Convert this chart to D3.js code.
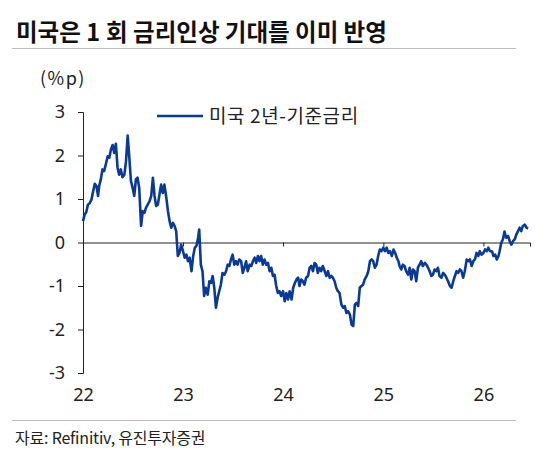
<!DOCTYPE html>
<html>
<head>
<meta charset="utf-8">
<script src="https://cdn.jsdelivr.net/npm/d3@7"></script>
<style>
  body { margin: 0; background: #fff; }
  svg { display: block; font-family: "Noto Sans CJK KR", "Noto Sans", sans-serif; }
</style>
</head>
<body>
<div id="chart"></div>
<script>
// 미국 2년물 - 기준금리 (%p), five readings a month (days 1, 7, 13, 19, 25)
var readDays = [1, 7, 13, 19, 25];
var startYear = 2022;

var y22 = [0.49, 0.64, 0.70, 0.87, 0.90, 0.99, 1.18, 1.35, 1.30, 1.07,
           1.30, 1.45, 1.68, 1.64, 1.79, 1.98, 1.95, 2.14, 2.24, 2.06,
           2.27, 1.72, 1.56, 1.68, 1.50, 1.56, 1.87, 2.46, 1.95, 1.41,
           1.26, 1.07, 1.45, 1.49, 1.26, 0.38, 0.72, 0.68, 0.80, 0.87,
           0.95, 1.07, 1.49, 1.07, 0.84, 0.87, 1.10, 1.33, 1.14, 1.33,
           1.03, 0.72, 0.49, 0.34, 0.45, 0.38, 0.26, -0.31, -0.24, -0.05];
var y23 = [-0.20, -0.35, -0.28, -0.43, -0.35, -0.66, -0.31, -0.12, -0.08, 0.11,
           0.30, -0.51, -0.66, -1.23, -1.04, -1.20, -0.89, -0.93, -0.77, -1.04,
           -1.50, -1.27, -1.12, -0.97, -0.70, -0.74, -0.66, -0.51, -0.54, -0.39,
           -0.28, -0.51, -0.43, -0.51, -0.39, -0.43, -0.70, -0.58, -0.43, -0.66,
           -0.51, -0.54, -0.43, -0.35, -0.47, -0.31, -0.43, -0.31, -0.51, -0.39,
           -0.51, -0.47, -0.66, -0.58, -0.77, -0.74, -1.00, -1.16, -1.12, -1.23];
var y24 = [-1.12, -1.35, -1.16, -1.31, -1.12, -1.31, -1.04, -0.93, -0.85, -0.81,
           -1.00, -0.85, -0.89, -0.97, -0.81, -0.77, -0.58, -0.54, -0.66, -0.47,
           -0.51, -0.70, -0.58, -0.66, -0.54, -0.66, -0.77, -0.66, -0.81, -0.77,
           -0.81, -0.89, -1.04, -1.12, -1.16, -1.43, -1.50, -1.46, -1.62, -1.58,
           -1.66, -1.89, -1.92, -1.43, -1.39, -1.46, -1.04, -1.00, -0.97, -0.85,
           -0.77, -0.66, -0.43, -0.39, -0.43, -0.58, -0.51, -0.31, -0.16, -0.20];
var y25 = [-0.12, -0.20, -0.12, -0.24, -0.20, -0.31, -0.16, -0.24, -0.35, -0.43,
           -0.54, -0.62, -0.51, -0.54, -0.66, -0.74, -0.58, -0.85, -0.62, -0.66,
           -0.89, -0.58, -0.51, -0.43, -0.54, -0.47, -0.51, -0.58, -0.66, -0.77,
           -0.74, -0.62, -0.66, -0.58, -0.77, -0.81, -0.70, -0.74, -0.81, -0.89,
           -1.00, -1.04, -0.89, -0.77, -0.66, -0.70, -0.62, -0.66, -0.81, -0.66,
           -0.39, -0.43, -0.39, -0.54, -0.43, -0.39, -0.24, -0.31, -0.20, -0.28];
var y26 = [-0.24, -0.16, -0.20, -0.12, -0.20, -0.20, -0.31, -0.28, -0.39, -0.31,
           -0.20, -0.01, 0.07, 0.25, 0.11, 0.15, 0.03, -0.05, 0.03, 0.07,
           0.18, 0.26, 0.34, 0.26, 0.38, 0.41, 0.34, 0.32];

var yTicks = [-3, -2, -1, 0, 1, 2, 3];
var yearLabels = ["22", "23", "24", "25", "26"];

var titleParts = ["미국은 1", "회 금리인상 기대를 이미 반영"];
var unitLabel = "(%p)";
var seriesName = "미국 2년-기준금리";
var sourceText = "자료: Refinitiv, 유진투자증권";

var lineColor = "#0a3a96";

var W = 552, H = 463;
var svg = d3.select("#chart").append("svg").attr("width", W).attr("height", H);

// build the series
var series = [];
[y22, y23, y24, y25, y26].forEach(function(vals, yi) {
    vals.forEach(function(v, i) {
        var m = Math.floor(i / readDays.length);
        var d = readDays[i % readDays.length];
        series.push({ date: new Date(startYear + yi, m, d), value: v });
    });
});

var x = d3.scaleTime()
    .domain([new Date(2022, 0, 1), new Date(2026, 5, 20)])
    .range([83, 530]);
var y = d3.scaleLinear().domain([-3, 3]).range([373, 112]);

// title + rules (the source font sets a wide gap after the "1")
var titleText = svg.append("text").attr("x", 16).attr("y", 41)
    .attr("font-size", 23.5).attr("font-weight", "bold").attr("fill", "#111");
titleText.append("tspan").text(titleParts[0]);
titleText.append("tspan").attr("dx", 6).text(titleParts[1]);
svg.append("line").attr("x1", 12).attr("x2", 516).attr("y1", 48.5).attr("y2", 48.5)
    .attr("stroke", "#bdbdbd").attr("stroke-width", 1);
svg.append("line").attr("x1", 12).attr("x2", 516).attr("y1", 420.5).attr("y2", 420.5)
    .attr("stroke", "#bdbdbd").attr("stroke-width", 1);

svg.append("text").attr("x", 40).attr("y", 85)
    .attr("font-size", 18).attr("letter-spacing", 1.5).attr("fill", "#222").text(unitLabel);

// y axis
var yAxis = svg.append("g").attr("transform", "translate(83,0)")
    .call(d3.axisLeft(y).tickValues(yTicks).tickSize(5).tickPadding(13)
        .tickFormat(function(d) { return String(d); }));
yAxis.select(".domain").attr("stroke", "#222");
yAxis.selectAll(".tick line").attr("stroke", "#222");
yAxis.selectAll("text").attr("font-size", 18).attr("fill", "#222")
    .attr("font-family", "'Noto Sans', sans-serif");

// zero line with year ticks
var years = yearLabels.map(function(s, i) { return new Date(startYear + i, 0, 1); });
var xAxis = svg.append("g").attr("transform", "translate(0," + y(0) + ")")
    .call(d3.axisBottom(x).tickValues(years.slice(1)).tickSize(4).tickFormat(""));
xAxis.select(".domain").attr("stroke", "#222");
xAxis.selectAll(".tick line").attr("stroke", "#222");

// year labels under the plot
var xLab = svg.append("g").attr("transform", "translate(0,388)")
    .call(d3.axisBottom(x).tickValues(years).tickSize(0).tickPadding(0)
        .tickFormat(function(d, i) { return yearLabels[i]; }));
xLab.select(".domain").remove();
xLab.selectAll("text").attr("font-size", 18).attr("fill", "#222")
    .attr("font-family", "'Noto Sans', sans-serif");

// series line
var line = d3.line()
    .x(function(d) { return x(d.date); })
    .y(function(d) { return y(d.value); });
svg.append("path").datum(series)
    .attr("d", line)
    .attr("fill", "none")
    .attr("stroke", lineColor)
    .attr("stroke-width", 2.6)
    .attr("stroke-linejoin", "round");

// legend
svg.append("line").attr("x1", 157).attr("x2", 203).attr("y1", 116).attr("y2", 116)
    .attr("stroke", lineColor).attr("stroke-width", 2.6);
svg.append("text").attr("x", 209).attr("y", 123)
    .attr("font-size", 19).attr("letter-spacing", 0.6).attr("fill", "#222").text(seriesName);

// source
svg.append("text").attr("x", 15).attr("y", 444)
    .attr("font-size", 16).attr("letter-spacing", -0.2).attr("fill", "#222")
    .text(sourceText);
</script>
</body>
</html>
